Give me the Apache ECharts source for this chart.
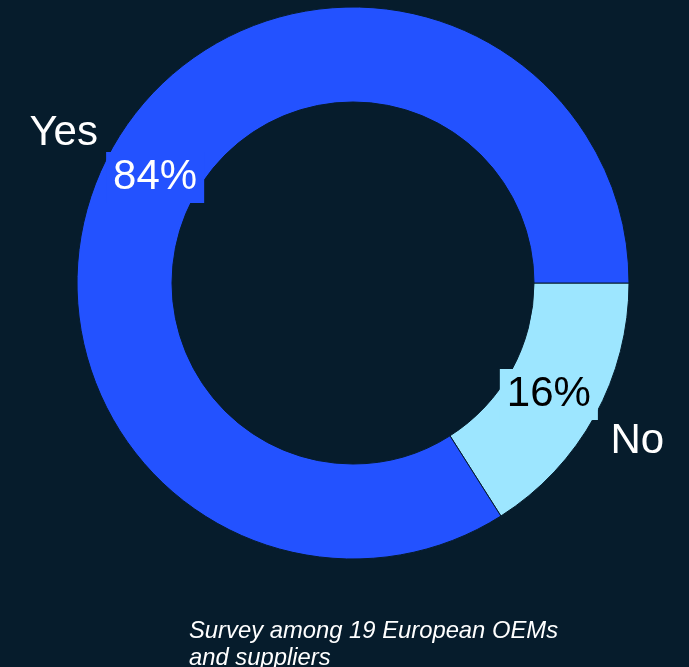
<!DOCTYPE html>
<html><head><meta charset="utf-8">
<script src="https://cdn.jsdelivr.net/npm/echarts@6/dist/echarts.min.js"></script>
<style>html,body{margin:0;padding:0;background:#061c2c;}#c{width:689px;height:667px;}</style>
</head><body><div id="c"></div>
<script>
const categories = ['No', 'Yes'];
const values = [16, 84];
const colors = ['#9de6ff', '#2352ff'];
const pctColors = ['#000000', '#ffffff'];
const caption = 'Survey among 19 European OEMs\nand suppliers';

const chart = echarts.init(document.getElementById('c'));
const font = '"Liberation Sans", Arial, sans-serif';
const pctOffsets = [[-7, 0], [5, 6]];
const nameOffsets = [[-4, 0], [-1, 9]];
chart.setOption({
  backgroundColor: '#061c2c',
  animation: false,
  title: {
    text: caption, left: 184, top: 613,
    textStyle: { color: '#ffffff', fontStyle: 'italic', fontWeight: 'normal', fontSize: 23.8, lineHeight: 27, fontFamily: font }
  },
  series: [
    {
      type: 'pie', center: [353, 283], radius: [181, 276], startAngle: 0, clockwise: true,
      silent: true,
      itemStyle: { borderColor: '#061c2c', borderWidth: 1 },
      data: categories.map((c, i) => ({
        name: c, value: values[i],
        itemStyle: { color: colors[i] },
        label: { color: pctColors[i], backgroundColor: colors[i], offset: pctOffsets[i] }
      })),
      label: {
        show: true, position: 'inside', formatter: '{c}%',
        fontSize: 42, fontFamily: font, padding: [3, 7, 2, 7], lineHeight: 46
      },
      labelLine: { show: false }
    },
    {
      type: 'pie', center: [353, 283], radius: [300, 352], startAngle: 0, clockwise: true,
      silent: true,
      itemStyle: { color: 'rgba(0,0,0,0)' },
      data: categories.map((c, i) => ({ name: c, value: values[i], label: { offset: nameOffsets[i] } })),
      label: {
        show: true, position: 'inside', formatter: '{b}',
        color: '#ffffff', fontSize: 42, fontFamily: font
      },
      labelLine: { show: false }
    }
  ]
});
</script></body></html>
